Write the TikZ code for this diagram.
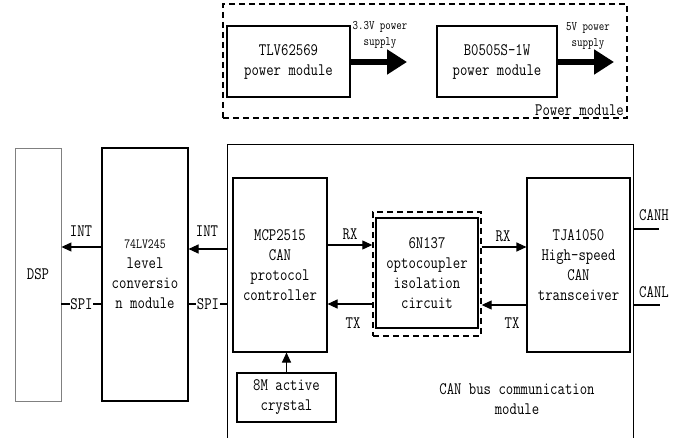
\documentclass[tikz,border=0pt]{standalone}
\usepackage{fontspec}
\setmainfont[FakeStretch=0.82]{Latin Modern Mono}
\usetikzlibrary{arrows.meta}
\begin{document}
\begin{tikzpicture}[x=1pt,y=-1pt,
  box/.style={draw, line width=1.1pt, inner sep=0pt, align=center, font=\fontsize{17.5}{20}\selectfont},
  arr/.style={line width=1.1pt, -{Triangle[length=10pt,width=9pt]}},
  bigarr/.style={line width=6pt, -{Triangle[length=20pt,width=24pt]}},
  dbox/.style={draw, line width=1.4pt, dash pattern=on 6pt off 4pt},
  lbl/.style={font=\fontsize{17.5}{18}\selectfont, inner sep=1pt},
  small/.style={font=\fontsize{13}{15.5}\selectfont, align=center, inner sep=0pt}]
\useasboundingbox (0,0) rectangle (677,438);
% Power module
\node[dbox, minimum width=404pt, minimum height=114pt] (pm) at (425,61) {};
\node[lbl, anchor=south east] (pmlbl) at (625,117) {Power module};
\node[box, minimum width=123pt, minimum height=71pt] (tlv) at (288.5,61.5) {TLV62569\\power module};
\node[box, minimum width=120pt, minimum height=71pt] (bo) at (497,61.5) {B0505S-1W\\power module};
\coordinate (p1) at (407,62);
\coordinate (p2) at (614,62);
\draw[bigarr] (tlv.east|-p1) -- (p1);
\draw[bigarr] (bo.east|-p2) -- (p2);
\node[small] (l33) at (380,35) {3.3V power\\supply};
\node[small] (l5) at (588,36) {5V power\\supply};
% left blocks
\node[box, draw=black!50, line width=0.9pt, minimum width=46pt, minimum height=253pt] (dsp) at (38,274.5) {DSP};
\node[box, minimum width=86pt, minimum height=253pt] (lv) at (145,274.5) {{\fontsize{14}{20}\selectfont 74LV245}\\level\\conversio\\n module};
% CAN bus box
\node[minimum width=405pt, minimum height=293pt, inner sep=0pt] (can) at (430.5,291.5) {};
\draw[line width=1.1pt] (can.south west) -- (can.north west) -- (can.north east) -- (can.south east);
\node[box, draw=none] (cantxt) at (517,399) {CAN bus communication\\module};
% INT / SPI left
\coordinate (i1) at (0,247);
\coordinate (i2) at (0,249);
\coordinate (s1) at (0,304);
\draw[arr] (lv.west|-i1) -- (dsp.east|-i1);
\draw[arr] (can.west|-i2) -- (lv.east|-i2);
\node[lbl] (int1) at (81,231) {INT};
\node[lbl] (int2) at (207,231) {INT};
\draw[line width=1.1pt] (dsp.east|-s1) -- (lv.west|-s1);
\draw[line width=1.1pt] (lv.east|-s1) -- (can.west|-s1);
\node[lbl, fill=white, inner sep=0.5pt] (spi1) at (81.5,304) {SPI};
\node[lbl, fill=white, inner sep=0.5pt] (spi2) at (208,304) {SPI};
% inner blocks
\node[box, minimum width=94pt, minimum height=174pt] (mcp) at (280,265) {MCP2515\\CAN\\protocol\\controller};
\node[dbox, minimum width=108pt, minimum height=124pt] (iso) at (427,274) {};
\node[box, minimum width=102pt, minimum height=110pt] (opt) at (427,273) {6N137\\optocoupler\\isolation\\circuit};
\node[box, minimum width=103pt, minimum height=174pt] (tja) at (578.5,265) {TJA1050\\High-speed\\CAN\\transceiver};
\node[box, minimum width=99pt, minimum height=49pt] (xtal) at (286.5,397.5) {8M active\\crystal};
\draw[arr] (xtal.north) -- (mcp.south-|xtal.north);
\coordinate (r1) at (0,245);
\coordinate (t1) at (0,304);
\coordinate (r2) at (0,247);
\coordinate (t2) at (0,305);
\draw[arr] (mcp.east|-r1) -- (iso.west|-r1);
\draw[arr] (iso.west|-t1) -- (mcp.east|-t1);
\draw[arr] (iso.east|-r2) -- (tja.west|-r2);
\draw[arr] (tja.west|-t2) -- (iso.east|-t2);
\node[lbl] (rx1) at (350,234) {RX};
\node[lbl] (tx1) at (353,323) {TX};
\node[lbl] (rx2) at (503,236) {RX};
\node[lbl] (tx2) at (512,323) {TX};
% CANH / CANL
\coordinate (ch) at (659,229);
\coordinate (cl) at (660,305);
\draw[line width=1.1pt] (can.east|-ch) -- (ch);
\draw[line width=1.1pt] (can.east|-cl) -- (cl);
\node[lbl] (canh) at (654,215) {CANH};
\node[lbl] (canl) at (654,292) {CANL};
\end{tikzpicture}
\end{document}
